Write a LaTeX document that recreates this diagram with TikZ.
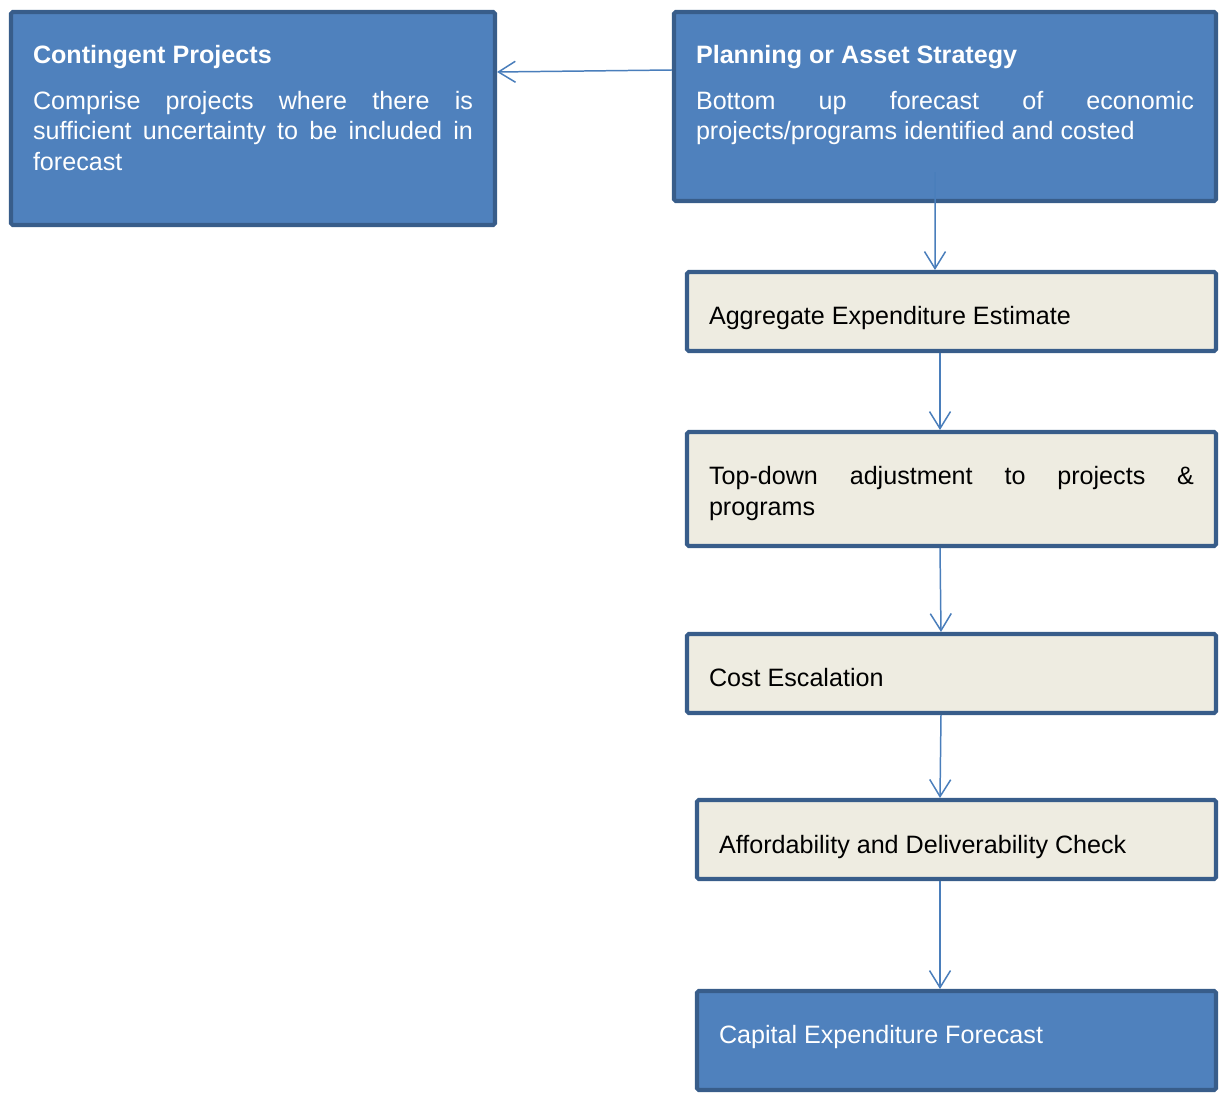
\documentclass[tikz,border=0pt]{standalone}
\usepackage{fontspec}
\setmainfont{Liberation Sans}
\usepackage{xcolor}
\usepackage{tikz}
\usetikzlibrary{arrows.meta,positioning}

\definecolor{boxblue}{HTML}{4F81BD}
\definecolor{boxline}{HTML}{385D8A}
\definecolor{boxtan}{HTML}{EEECE1}
\definecolor{linkblue}{HTML}{4A7EBB}

\begin{document}
\begin{tikzpicture}[font=\fontsize{14.3}{17.47}\selectfont]
\tikzset{stage/.style={draw=boxline, line width=2.3pt, rounded corners=1pt, align=justify, inner xsep=0.44cm},
  bluebox/.style={stage, fill=boxblue, text=white},
  tanbox/.style={stage, fill=boxtan, text=black},
  flow/.style={draw=linkblue, line width=0.85pt, -{Straight Barb[length=3.4mm,width=4.2mm]}}}
\useasboundingbox (0,0) rectangle (24.38,-21.86);
\node[bluebox, text width=8.8cm, minimum height=4.26cm, text height=0pt, text depth=2.21cm] (cont) at (5.06,-2.37) {\textbf{Contingent Projects}\\[3.06mm]Comprise projects where there is\linebreak sufficient uncertainty to be included in\linebreak forecast};
\node[bluebox, text width=9.96cm, minimum height=3.78cm, text height=0pt, text depth=1.73cm] (plan) at (18.9,-2.13) {\textbf{Planning or Asset Strategy}\\[3.06mm]Bottom up forecast of economic\linebreak projects/programs identified and costed};
\node[tanbox, text width=9.7cm, minimum height=1.58cm, text height=0.54cm, text depth=0pt] (agg) at (19.03,-6.23) {Aggregate Expenditure Estimate};
\node[tanbox, text width=9.7cm, minimum height=2.28cm, text height=0pt, text depth=0.16cm] (topdown) at (19.03,-9.78) {Top-down adjustment to projects \&\linebreak programs};
\node[tanbox, text width=9.7cm, minimum height=1.58cm, text height=0.54cm, text depth=0pt] (cost) at (19.03,-13.47) {Cost Escalation};
\node[tanbox, text width=9.5cm, minimum height=1.58cm, text height=0.54cm, text depth=0pt] (afford) at (19.13,-16.79) {Affordability and Deliverability Check};
\node[bluebox, text width=9.5cm, minimum height=1.98cm, text height=0.12cm, text depth=0pt] (capex) at (19.13,-20.81) {Capital Expenditure Forecast};
\draw[flow] ([yshift=7.3mm]plan.west) -- ([yshift=9.3mm]cont.east);
\draw[flow] ([xshift=-2mm,yshift=6.2mm]plan.south) -- ([xshift=-3.3mm]agg.north);
\draw[flow] ([xshift=-2.3mm]agg.south) -- ([xshift=-2.3mm]topdown.north);
\draw[flow] ([xshift=-2.3mm]topdown.south) -- ([xshift=-2.1mm]cost.north);
\draw[flow] ([xshift=-2.1mm]cost.south) -- ([xshift=-3.3mm]afford.north);
\draw[flow] ([xshift=-3.3mm]afford.south) -- ([xshift=-3.3mm]capex.north);
\end{tikzpicture}
\end{document}
